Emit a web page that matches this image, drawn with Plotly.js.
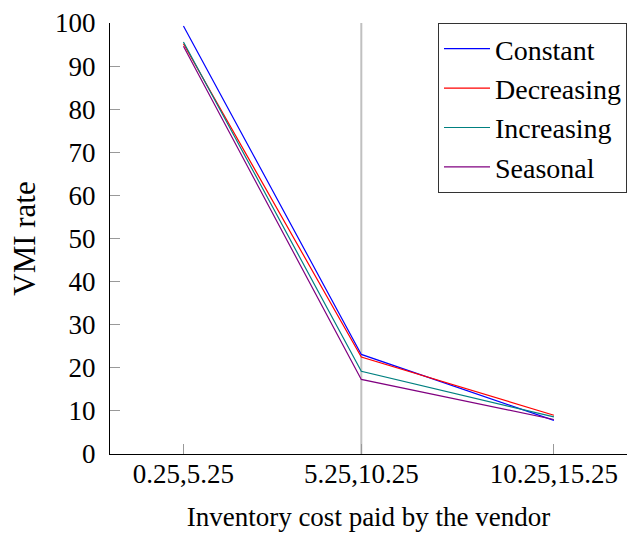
<!DOCTYPE html>
<html>
<head>
<meta charset="utf-8">
<script src="https://cdn.plot.ly/plotly-3.0.1.min.js"></script>
<style>
  html, body { margin: 0; padding: 0; background: #fff; }
  #chart { width: 630px; height: 533px; }
</style>
</head>
<body>
<div id="chart"></div>
<script>
// Cost intervals on the x axis and where each one sits on the axis
const categories = ['0.25,5.25', '5.25,10.25', '10.25,15.25'];
const xPos = [0, 1, 2.083];

// VMI rate per demand pattern
const constant   = [99.3, 23.1, 7.8];
const decreasing = [95.2, 22.5, 9.0];
const increasing = [95.6, 19.2, 8.6];
const seasonal   = [94.6, 17.3, 8.0];

const seriesNames  = ['Constant', 'Decreasing', 'Increasing', 'Seasonal'];
const seriesValues = [constant, decreasing, increasing, seasonal];
const seriesColors = ['#0000ff', '#ff0000', '#008080', '#800080'];

const serif = 'Liberation Serif';

const traces = seriesNames.map((name, i) => ({
  type: 'scatter',
  mode: 'lines',
  name: name,
  x: xPos,
  y: seriesValues[i],
  line: { color: seriesColors[i], width: 1.2 }
}));

const layout = {
  width: 630,
  height: 533,
  margin: { l: 110, r: 3, t: 23, b: 79 },
  paper_bgcolor: '#fff',
  plot_bgcolor: '#fff',
  font: { family: serif, color: '#000' },
  showlegend: true,
  legend: {
    x: 1, xanchor: 'right', y: 1, yanchor: 'top',
    bordercolor: '#333', borderwidth: 1, bgcolor: '#fff',
    font: { family: serif, size: 28, color: '#000' },
    itemwidth: 46,
    tracegroupgap: 0
  },
  xaxis: {
    range: [-0.413, 2.494],
    tickmode: 'array',
    tickvals: xPos,
    ticktext: categories,
    ticks: 'inside', ticklen: 10, tickcolor: '#999', tickwidth: 1,
    showline: true, linecolor: '#000', linewidth: 1,
    showgrid: false, zeroline: false,
    tickfont: { family: serif, size: 27, color: '#000' },
    ticklabelstandoff: -4,
    title: { text: 'Inventory cost paid by the vendor', font: { family: serif, size: 27, color: '#000' }, standoff: 18 }
  },
  yaxis: {
    range: [0, 100],
    tickmode: 'linear', tick0: 0, dtick: 10,
    ticks: 'inside', ticklen: 10, tickcolor: '#999', tickwidth: 1,
    showline: true, linecolor: '#000', linewidth: 1,
    showgrid: false, zeroline: false,
    tickfont: { family: serif, size: 27, color: '#000' },
    ticklabelstandoff: 8,
    title: { text: 'VMI rate', font: { family: serif, size: 31, color: '#000' }, standoff: 10 }
  },
  shapes: [{
    type: 'line', xref: 'x', yref: 'paper',
    x0: xPos[1], x1: xPos[1], y0: 0, y1: 1,
    line: { color: '#c0c0c0', width: 2 },
    layer: 'below'
  }]
};

Plotly.newPlot('chart', traces, layout, { displayModeBar: false, staticPlot: true });
</script>
</body>
</html>
